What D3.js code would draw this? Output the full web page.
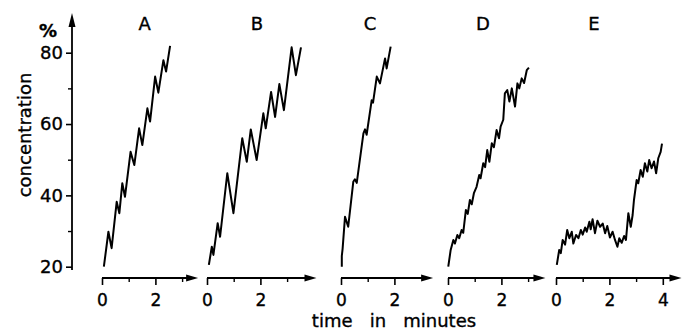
<!DOCTYPE html>
<html>
<head>
<meta charset="utf-8">
<script src="https://cdn.jsdelivr.net/npm/d3@7"></script>
<style>
  body { margin: 0; background: #fff; }
  svg text { font-family: "DejaVu Sans", sans-serif; fill: #000; stroke: #000; stroke-width: 0.35px; }
</style>
</head>
<body>
<svg width="684" height="332"></svg>
<script>
const svg = d3.select("svg");

// panel letters and x-axis extent (minutes)
const panelNames = ["A", "B", "C", "D", "E"];
const panelTicks = [[0, 1, 2, 3], [0, 1, 2, 3], [0, 1, 2], [0, 1, 2, 3], [0, 1, 2, 3, 4]];
const panelMax = [3.6, 4.1, 3.45, 3.65, 4.7]; // where the arrow ends

// y axis ticks (%)
const yMajor = [20, 40, 60, 80];
const yMinor = [30, 50, 70];

// traces, [minutes, %]
const seriesA = [[0.07, 20], [0.24, 29.8], [0.36, 25.2], [0.55, 38.2], [0.65, 35], [0.76, 43.4], [0.86, 39.6],
  [1.07, 52.2], [1.21, 48.5], [1.39, 58.8], [1.51, 54.1], [1.70, 64.4], [1.80, 60.7], [1.99, 73.3],
  [2.11, 68.8], [2.30, 77.9], [2.40, 74.7], [2.55, 81.9]];
const seriesB = [[0.07, 20.5], [0.18, 25.6], [0.24, 23.3], [0.40, 32.2], [0.49, 28.4], [0.76, 46.2], [0.99, 35],
  [1.32, 56], [1.49, 49.4], [1.64, 58.5], [1.86, 49.9], [2.11, 63], [2.20, 58.8], [2.40, 69], [2.55, 62],
  [2.71, 71.2], [2.88, 63.9], [3.17, 81.5], [3.33, 73.7], [3.52, 81.5]];
const seriesC = [[0.03, 20], [0.03, 23], [0.06, 25], [0.15, 34], [0.27, 31.2], [0.46, 43.8], [0.52, 44.5],
  [0.59, 43.5], [0.84, 57.4], [0.90, 58.5], [0.96, 57], [1.15, 66.7], [1.20, 66], [1.34, 73.3], [1.46, 71.4],
  [1.65, 78.4], [1.71, 75.6], [1.86, 81.7]];
const seriesD = [[0.01, 20], [0.10, 24.7], [0.20, 27.5], [0.26, 26.5], [0.35, 28.9], [0.42, 28], [0.51, 30.3],
  [0.57, 29.5], [0.67, 35.9], [0.74, 34.8], [0.82, 38.7], [0.89, 37.5], [0.97, 40.6], [1.07, 42.4],
  [1.17, 45.7], [1.22, 44.8], [1.32, 49], [1.39, 47.9], [1.47, 52.7], [1.55, 49.4], [1.64, 54.6],
  [1.72, 53.5], [1.82, 58.3], [1.91, 56], [1.97, 59.3], [2.07, 61.2], [2.13, 68.6], [2.22, 69.5],
  [2.30, 66.3], [2.39, 70], [2.51, 64.9], [2.60, 71.4], [2.67, 70], [2.76, 72.8], [2.85, 71.5],
  [2.95, 75.1], [3.03, 75.8]];
const seriesE = [[0.03, 20.5], [0.12, 24.7], [0.18, 23.8], [0.25, 27.5], [0.34, 26.2], [0.42, 30.3], [0.50, 28],
  [0.59, 29.8], [0.65, 26.5], [0.75, 28.9], [0.84, 28], [0.93, 30.3], [1.00, 29], [1.09, 31], [1.15, 29.8],
  [1.25, 32.6], [1.30, 30.5], [1.37, 33.3], [1.46, 29.4], [1.55, 32.9], [1.65, 31.2], [1.75, 32.1],
  [1.84, 29.4], [1.92, 31.4], [2.02, 28.2], [2.12, 29.8], [2.21, 27.5], [2.30, 25.6], [2.37, 28],
  [2.46, 26.7], [2.55, 28.6], [2.62, 27.5], [2.71, 35], [2.80, 31.2], [2.87, 34.5], [2.92, 38.7],
  [3.02, 44.3], [3.08, 43.4], [3.17, 47.1], [3.25, 45.2], [3.33, 49], [3.42, 46.7], [3.49, 49.9],
  [3.58, 47.6], [3.67, 49.5], [3.75, 46.2], [3.83, 50.4], [3.92, 52.2], [3.97, 54.5]];
const allSeries = [seriesA, seriesB, seriesC, seriesD, seriesE];

// layout
const panelX0 = [102, 207, 341, 448, 556];
const titleAt = [1.6, 1.87, 1.09, 1.31, 1.42]; // minutes, centre of each letter
const pxPerMin = 26.7;
const axisY = 278;
const yAxisX = 72;

const y = d3.scaleLinear().domain([20, 80]).range([266.7, 52.7]);

// ---- y axis ----
const gy = svg.append("g").attr("transform", `translate(${yAxisX},0)`);
gy.call(d3.axisLeft(y).tickValues(yMajor).tickSize(6).tickPadding(3).tickFormat(d3.format("d")));
gy.call(g => g.select(".domain").remove());
gy.selectAll(".tick line").attr("stroke", "#000").attr("stroke-width", 1.6);
gy.selectAll(".tick text").attr("font-size", 18).attr("font-family", "DejaVu Sans");

const gyMinor = svg.append("g").attr("transform", `translate(${yAxisX},0)`);
gyMinor.call(d3.axisLeft(y).tickValues(yMinor).tickSize(4).tickFormat(""));
gyMinor.call(g => g.select(".domain").remove());
gyMinor.selectAll(".tick line").attr("stroke", "#000").attr("stroke-width", 1.4);

svg.append("line")
  .attr("x1", yAxisX).attr("x2", yAxisX)
  .attr("y1", 270).attr("y2", 24)
  .attr("stroke", "#000").attr("stroke-width", 1.8);
svg.append("path")
  .attr("d", `M${yAxisX},13 L${yAxisX - 3.5},27 L${yAxisX + 3.5},27 Z`)
  .attr("fill", "#000");

svg.append("text").text("%")
  .attr("x", 48).attr("y", 37)
  .attr("text-anchor", "middle")
  .attr("font-size", 18).attr("font-weight", "bold");

svg.append("text").text("concentration")
  .attr("transform", "translate(31,135) rotate(-90)")
  .attr("text-anchor", "middle")
  .attr("font-size", 18);

// ---- panels ----
panelNames.forEach(function (name, i) {
  const x = d3.scaleLinear().domain([0, 1]).range([panelX0[i], panelX0[i] + pxPerMin]);
  const end = x(panelMax[i]);

  const ticks = panelTicks[i];
  const gx = svg.append("g").attr("transform", `translate(0,${axisY})`);
  gx.call(d3.axisBottom(x).tickValues(ticks.filter(t => t % 2 === 0)).tickSize(7).tickPadding(9)
    .tickFormat(d3.format("d")));
  gx.call(g => g.select(".domain").remove());
  gx.selectAll(".tick line").attr("stroke", "#000").attr("stroke-width", 1.6);
  gx.selectAll(".tick text").attr("font-size", 17).attr("font-family", "DejaVu Sans");

  const gxMinor = svg.append("g").attr("transform", `translate(0,${axisY})`);
  gxMinor.call(d3.axisBottom(x).tickValues(ticks.filter(t => t % 2 === 1)).tickSize(4).tickFormat(""));
  gxMinor.call(g => g.select(".domain").remove());
  gxMinor.selectAll(".tick line").attr("stroke", "#000").attr("stroke-width", 1.4);

  svg.append("line")
    .attr("x1", x(0)).attr("x2", end - 8)
    .attr("y1", axisY).attr("y2", axisY)
    .attr("stroke", "#000").attr("stroke-width", 1.8);
  svg.append("path")
    .attr("d", `M${end},${axisY} L${end - 12},${axisY - 3.5} L${end - 12},${axisY + 3.5} Z`)
    .attr("fill", "#000");

  svg.append("text").text(name)
    .attr("x", x(titleAt[i])).attr("y", 30)
    .attr("text-anchor", "middle")
    .attr("font-size", 18);

  const line = d3.line()
    .x(function (d) { return x(d[0]); })
    .y(function (d) { return y(d[1]); });
  svg.append("path")
    .datum(allSeries[i])
    .attr("d", line)
    .attr("fill", "none")
    .attr("stroke", "#000")
    .attr("stroke-width", 2)
    .attr("stroke-linejoin", "round");
});

svg.append("text")
  .attr("x", 394).attr("y", 327)
  .attr("text-anchor", "middle")
  .attr("font-size", 18)
  .attr("xml:space", "preserve")
  .text("time   in   minutes");
</script>
</body>
</html>
